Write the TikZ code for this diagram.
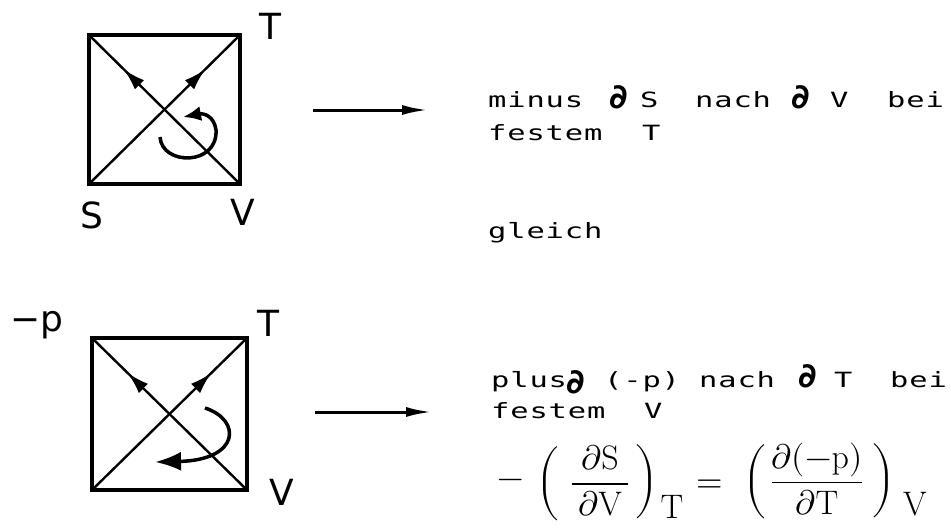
\documentclass[tikz,border=0pt]{standalone}
\usepackage{fontspec}
\usepackage{unicode-math}
\setmathfont{Latin Modern Math}
\usetikzlibrary{arrows.meta,decorations.markings}
\newfontfamily\mono[FakeStretch=1.45,LetterSpace=4]{DejaVu Sans Mono}
\newfontfamily\hand{DejaVu Sans}
\tikzset{
  mtext/.style={anchor=base west, inner sep=0pt, font=\mono\fontsize{21}{25}\selectfont},
  lbl/.style={inner sep=0pt, font=\hand\fontsize{36}{40}\selectfont},
  del/.style={inner sep=0pt, font=\hand\bfseries\fontsize{34}{38}\selectfont},
  frame/.style={line width=3.5pt, line join=miter},
  diag/.style={line width=2.4pt, postaction={decorate},
    decoration={markings, mark=at position 0.77 with {\arrow{Latex[length=22pt,width=13pt]}}}},
  turn/.style={line width=3.5pt, -{Latex[length=18pt,width=15pt]}},
  turnbig/.style={line width=3.5pt, -{Latex[length=26pt,width=19pt]}},
  goes/.style={line width=3pt, -{Latex[length=26pt,width=10pt]}},
  fml/.style={inner sep=0pt, font=\fontsize{34}{40}\selectfont},
  paren/.style={inner sep=0pt, font=\fontsize{31}{37}\selectfont},
}
\begin{document}
\begin{tikzpicture}[x=1pt,y=-1pt]
\fill[white] (0,0) rectangle (951,528);
\useasboundingbox (0,0) rectangle (951,528);

% ---------- top square ----------
\coordinate (atl) at (89,35);
\coordinate (atr) at (240,35);
\coordinate (abl) at (89,184);
\coordinate (abr) at (240,184);
\draw[frame] (atl) -- (atr) -- (abr) -- (abl) -- cycle;
\draw[diag] (abl) -- (atr);
\draw[diag] (abr) -- (atl);
\coordinate (ac0) at (160,137);
\coordinate (ac1) at (183,117);
\draw[turn] (ac0) .. controls (162,166) and (218,166) .. (216,130)
  .. controls (214,116) and (204,113) .. (ac1);
\node[lbl] (aT) at (270,26) {T};
\node[lbl] (aS) at (92,215) {S};
\node[lbl] (aV) at (243,212) {V};

% ---------- bottom square ----------
\coordinate (btl) at (92,338);
\coordinate (btr) at (247,338);
\coordinate (bbl) at (92,490);
\coordinate (bbr) at (247,490);
\draw[frame] (btl) -- (btr) -- (bbr) -- (bbl) -- cycle;
\draw[diag] (bbl) -- (btr);
\draw[diag] (bbr) -- (btl);
\coordinate (bc0) at (205,408);
\coordinate (bc1) at (155,462);
\draw[turnbig] (bc0) .. controls (242,420) and (240,460) .. (bc1);
\node[lbl, anchor=base west] (bp) at (10,331) {−p};
\node[lbl] (bT) at (268,323) {T};
\node[lbl] (bV) at (282,492) {V};

% ---------- horizontal arrows ----------
\coordinate (ra0) at (313,110);
\coordinate (ra1) at (428,110);
\draw[goes] (ra0) -- (ra1);
\coordinate (rb0) at (315,412);
\coordinate (rb1) at (432,412);
\draw[goes] (rb0) -- (rb1);

% ---------- top text ----------
\node[mtext] (t1) at (488,107) {minus};
\node[del] (d1) at (619,97) {∂};
\node[mtext] (t2) at (640,107) {S};
\node[mtext] (t3) at (695,107) {nach};
\node[del] (d2) at (801,97) {∂};
\node[mtext] (t4) at (830,107) {V};
\node[mtext] (t5) at (887,107) {bei};
\node[mtext] (t6) at (488,140) {festem};
\node[mtext] (t7) at (642,140) {T};
\node[mtext] (t8) at (488,238) {gleich};

% ---------- bottom text ----------
\node[mtext] (u1) at (491,387) {plus};
\node[del] (d3) at (576,382) {∂};
\node[mtext] (u2) at (604,387) {(-p)};
\node[mtext] (u3) at (699,387) {nach};
\node[del] (d4) at (808,376) {∂};
\node[mtext] (u4) at (834,387) {T};
\node[mtext] (u5) at (890,387) {bei};
\node[mtext] (u6) at (491,418) {festem};
\node[mtext] (u7) at (644,418) {V};

% ---------- formula ----------
\node[fml] (f0) at (511,484) {$-$};
\node[paren] (f1) at (548,484) {$\biggl($};
\node[fml] (f2) at (600,481) {$\displaystyle\frac{\,\partial\mathrm{S}\,}{\,\partial\mathrm{V}\,}$};
\node[paren] (f3) at (647,482) {$\biggr)$};
\node[fml] (f4) at (672,507) {$\mathrm{T}$};
\node[fml] (f5) at (710,486) {$=$};
\node[paren] (f6) at (755,482) {$\biggl($};
\node[fml] (f7) at (817,479) {$\displaystyle\frac{\partial(-\mathrm{p})}{\,\partial\mathrm{T}\,}$};
\node[paren] (f8) at (884,481) {$\biggr)$};
\node[fml] (f9) at (915,504) {$\mathrm{V}$};
\end{tikzpicture}
\end{document}
